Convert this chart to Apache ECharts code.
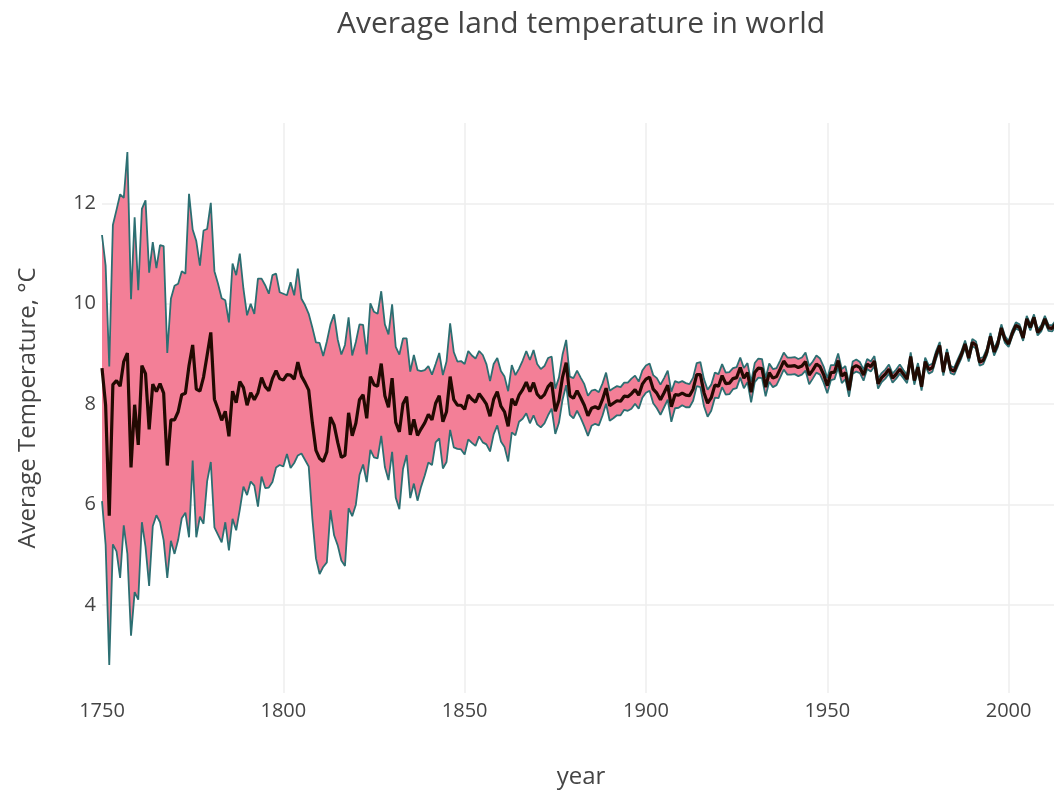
<!DOCTYPE html>
<html><head><meta charset="utf-8">
<script src="https://cdn.jsdelivr.net/npm/echarts@6/dist/echarts.min.js"></script>
<style>html,body{margin:0;padding:0;background:#fff}#chart{width:1054px;height:794px}</style>
</head><body><div id="chart"></div>
<script>
const startYear = 1750;
// Average land temperature (°C), one value per year from 1750
const meanTemp = [
8.72,7.98,5.78,8.39,8.47,8.36,8.85,9.02,6.74,7.99,
7.19,8.77,8.61,7.50,8.40,8.25,8.41,8.22,6.78,7.69,
7.69,7.85,8.19,8.22,8.77,9.18,8.30,8.26,8.54,8.98,
9.43,8.10,7.90,7.68,7.86,7.36,8.26,8.03,8.45,8.33,
7.98,8.23,8.09,8.23,8.53,8.35,8.27,8.51,8.67,8.51,
8.48,8.59,8.58,8.50,8.84,8.56,8.43,8.28,7.63,7.08,
6.92,6.86,7.05,7.74,7.59,7.24,6.94,6.98,7.83,7.37,
7.62,8.09,8.19,7.72,8.55,8.39,8.36,8.81,8.17,7.94,
8.52,7.64,7.45,8.01,8.15,7.39,7.70,7.38,7.51,7.63,
7.80,7.69,8.02,8.17,7.65,7.85,8.55,8.09,7.98,7.98,
7.90,8.18,8.10,8.04,8.21,8.11,8.00,7.76,8.10,8.25,
7.96,7.85,7.56,8.11,7.98,8.18,8.29,8.44,8.25,8.43,
8.20,8.12,8.19,8.35,8.43,7.86,8.08,8.54,8.83,8.17,
8.12,8.27,8.13,7.98,7.77,7.92,7.95,7.91,8.09,8.32,
7.97,8.02,8.07,8.06,8.16,8.15,8.21,8.29,8.18,8.40,
8.50,8.54,8.30,8.22,8.09,8.23,8.38,7.95,8.19,8.18,
8.22,8.18,8.17,8.30,8.59,8.59,8.23,8.02,8.13,8.38,
8.36,8.57,8.41,8.42,8.51,8.53,8.73,8.52,8.63,8.24,
8.63,8.72,8.71,8.34,8.63,8.52,8.55,8.70,8.86,8.76,
8.76,8.77,8.73,8.76,8.85,8.58,8.68,8.80,8.75,8.59,
8.37,8.63,8.64,8.87,8.56,8.63,8.28,8.73,8.77,8.73,
8.58,8.80,8.75,8.86,8.41,8.53,8.60,8.70,8.52,8.60,
8.70,8.60,8.50,8.95,8.47,8.74,8.35,8.85,8.69,8.73,
8.98,9.17,8.64,9.03,8.69,8.66,8.83,8.99,9.20,8.92,
9.23,9.18,8.84,8.87,9.04,9.35,9.04,9.20,9.52,9.29,
9.20,9.41,9.57,9.53,9.32,9.70,9.53,9.73,9.43,9.51,
9.70,9.52,9.51,9.61,9.57,9.83
];
// Uncertainty (°C) per year
const uncertainty = [
2.65,2.78,2.97,3.18,3.40,3.82,3.26,4.00,3.35,3.73,
3.08,3.12,3.45,3.12,2.83,2.46,2.76,2.93,2.24,2.41,
2.67,2.55,2.46,2.38,3.42,2.30,2.95,2.50,2.92,2.51,
2.58,2.55,2.50,2.43,2.21,2.27,2.54,2.54,2.55,1.97,
1.79,1.77,1.71,2.27,1.97,2.02,1.93,2.06,1.93,1.72,
1.72,1.58,1.85,1.67,1.86,1.54,1.54,1.52,1.90,2.15,
2.30,2.10,2.20,1.85,2.20,2.05,2.05,2.20,1.90,1.60,
1.62,1.50,1.39,1.27,1.46,1.45,1.44,1.44,1.42,1.45,
1.47,1.50,1.54,1.30,1.16,1.26,1.28,1.30,1.15,1.05,
0.96,0.90,0.78,0.85,0.93,1.00,1.06,0.95,0.87,0.88,
0.90,0.88,0.87,0.87,0.85,0.87,0.80,0.70,0.70,0.67,
0.70,0.70,0.70,0.67,0.60,0.53,0.58,0.62,0.63,0.65,
0.60,0.58,0.57,0.57,0.52,0.45,0.45,0.45,0.45,0.38,
0.40,0.40,0.40,0.42,0.40,0.35,0.34,0.33,0.32,0.31,
0.30,0.30,0.29,0.28,0.27,0.28,0.30,0.28,0.27,0.27,
0.27,0.27,0.28,0.30,0.30,0.29,0.29,0.30,0.27,0.25,
0.24,0.24,0.23,0.23,0.23,0.25,0.27,0.27,0.26,0.25,
0.24,0.23,0.22,0.22,0.21,0.21,0.20,0.20,0.19,0.20,
0.19,0.19,0.19,0.18,0.18,0.18,0.17,0.17,0.17,0.17,
0.17,0.17,0.17,0.17,0.18,0.18,0.17,0.17,0.16,0.16,
0.15,0.15,0.14,0.14,0.14,0.13,0.13,0.12,0.12,0.11,
0.11,0.10,0.10,0.10,0.10,0.09,0.09,0.09,0.09,0.09,
0.09,0.08,0.08,0.08,0.08,0.08,0.08,0.08,0.08,0.08,
0.08,0.07,0.07,0.07,0.07,0.07,0.07,0.07,0.07,0.07,
0.07,0.07,0.07,0.07,0.07,0.07,0.07,0.07,0.07,0.07,
0.06,0.06,0.06,0.06,0.06,0.06,0.06,0.06,0.06,0.06,
0.06,0.06,0.06,0.06,0.06,0.06
];
const xTickStep = 50;
const titleText = 'Average land temperature in world';
const xName = 'year';
const yName = 'Average Temperature, °C';

const years = meanTemp.map((_, i) => String(startYear + i));
const lowerData = meanTemp.map((m, i) => +(m - uncertainty[i]).toFixed(3));
const bandData = uncertainty.map(u => +(2 * u).toFixed(3));

const FONT = '"Open Sans", "Noto Sans", sans-serif';
const TXT = '#444';
const TEAL = '#2c6f72';

const chart = echarts.init(document.getElementById('chart'), null, {renderer: 'canvas'});
chart.setOption({
  animation: false,
  backgroundColor: '#fff',
  grid: {left: 102, top: 123, width: 961, height: 570, containLabel: false, outerBoundsMode: 'none'},
  xAxis: {
    type: 'category', data: years, boundaryGap: false,
    axisLine: {show: false}, axisTick: {show: false},
    axisLabel: {
      color: TXT, fontFamily: FONT, fontSize: 20, margin: 8,
      interval: (idx, val) => (+val) % xTickStep === 0
    },
    splitLine: {
      show: true,
      interval: (idx, val) => (+val) % xTickStep === 0 && idx > 0,
      lineStyle: {color: '#eeeeee', width: 1.5}
    }
  },
  yAxis: {
    type: 'value', min: 2.25, max: 13.6, splitNumber: 5,
    axisLine: {show: false}, axisTick: {show: false},
    axisLabel: {color: TXT, fontFamily: FONT, fontSize: 20, margin: 6, showMinLabel: false, showMaxLabel: false},
    splitLine: {show: true, showMinLine: false, showMaxLine: false, lineStyle: {color: '#eeeeee', width: 1.5}}
  },
  graphic: [
    {type: 'text', x: 581, y: 24, style: {text: titleText, fill: TXT, font: '30px ' + FONT, textAlign: 'center', textVerticalAlign: 'middle'}},
    {type: 'text', x: 581, y: 777, style: {text: xName, fill: TXT, font: '24px ' + FONT, textAlign: 'center', textVerticalAlign: 'middle'}},
    {type: 'text', x: 28, y: 408, rotation: Math.PI / 2, style: {text: yName, fill: TXT, font: '24px ' + FONT, textAlign: 'center', textVerticalAlign: 'middle'}}
  ],
  series: [
    {
      name: 'lower', type: 'line', stack: 'band', data: lowerData,
      symbol: 'none', z: 3, silent: true,
      lineStyle: {color: TEAL, width: 1.8}
    },
    {
      name: 'band', type: 'line', stack: 'band', data: bandData,
      symbol: 'none', z: 2, silent: true,
      lineStyle: {color: TEAL, width: 1.8},
      areaStyle: {color: '#f37f97', opacity: 1}
    },
    {
      name: 'mean', type: 'line', data: meanTemp,
      symbol: 'none', z: 4, silent: true,
      lineStyle: {color: '#220a02', width: 3.2}
    }
  ]
});
</script>
</body></html>
